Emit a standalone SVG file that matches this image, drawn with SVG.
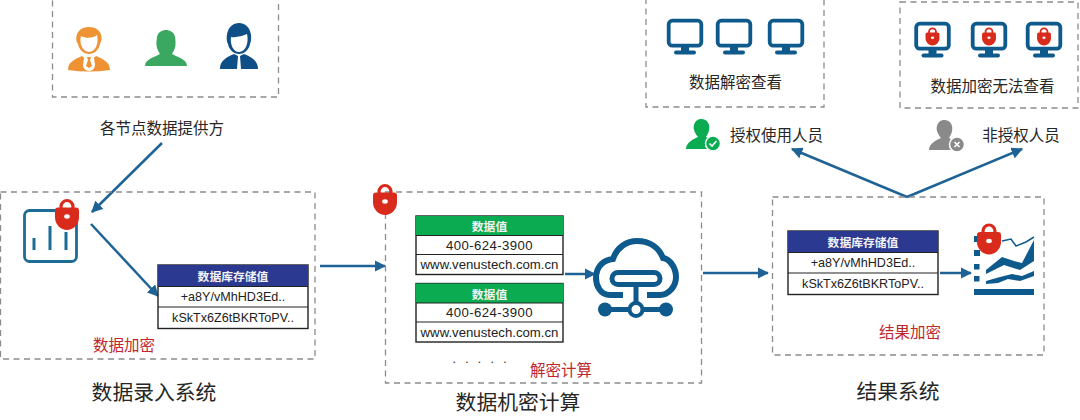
<svg xmlns="http://www.w3.org/2000/svg" width="1080" height="420" viewBox="0 0 1080 420">
<style>
text{font-family:"Noto Sans CJK SC","Liberation Sans",sans-serif;fill:#262626;text-anchor:middle;dominant-baseline:central}
.box{fill:none;stroke:#8c8c8c;stroke-width:1.3;stroke-dasharray:6 4.5}
.c{fill:none;stroke:#1f6396;stroke-width:2.5}
.lbl{font-size:15.5px}
.ttl{font-size:20.8px}
.red{font-size:15.5px;fill:#c0272d}
.hd{font-size:11.8px;font-weight:700;fill:#f2f2f2}
.cell{font-family:"Liberation Sans",sans-serif;font-size:12.6px;fill:#222}
.ph{font-family:"Liberation Sans",sans-serif;font-size:13.2px;fill:#222}
.tb{fill:#fff;stroke:#222;stroke-width:1.4}
.navy{fill:#2b3990}
.grn{fill:#0bab52}
.ln{fill:none;stroke:#0f5a8c}
.mon{fill:#0f5a8c}
</style>
<defs>
<marker id="ah" viewBox="0 0 10 10" refX="9" refY="5" markerWidth="4.6" markerHeight="4.6" orient="auto"><path d="M0 0L10 5L0 10Z" fill="#1f6396"/></marker>
<g id="lock"><circle cx="0" cy="-8" r="6" fill="none" stroke="#d92b1c" stroke-width="3.2"/><path d="M-12-4Q-12-7-9-7H9Q12-7 12-4V3C12 10 6 15.500 0 15.500S-12 10-12 3Z" fill="#d92b1c"/><ellipse cx="0" cy="2" rx="2.800" ry="2.200" fill="#fff"/></g>
<g id="monitor"><rect x="1.700" y="1.700" width="32.600" height="25" rx="3.500" fill="#fff" stroke="#0f5a8c" stroke-width="3.800"/><rect x="14" y="27" width="8" height="5" class="mon"/><rect x="7" y="31.500" width="22" height="4" rx="2" class="mon"/></g>
<g id="tbl-enc"><rect class="tb" x="0" y="0" width="150" height="63.500"/><rect class="navy" x="0" y="0" width="150" height="21.500"/><path d="M0 21.500H150M0 42H150" stroke="#222" stroke-width="1.200"/><text class="hd" x="75" y="10.500">数据库存储值</text><text class="cell" x="75" y="31.500">+a8Y/vMhHD3Ed..</text><text class="cell" x="75" y="52.500">kSkTx6Z6tBKRToPV..</text></g>
<g id="tbl-val"><rect class="tb" x="0" y="0" width="147" height="58.500"/><rect class="grn" x="0" y="0" width="147" height="19.500"/><path d="M0 19.500H147M0 38.500H147" stroke="#222" stroke-width="1.200"/><text class="hd" x="73.500" y="9.500">数据值</text><text class="ph" x="73.500" y="29" style="letter-spacing:.4px">400-624-3900</text><text class="ph" x="73.500" y="48.500">www.venustech.com.cn</text></g>
</defs>
<rect width="1080" height="420" fill="#fff"/>

<g id="connectors">
<path class="c" marker-end="url(#ah)" d="M162 143L92 212"/>
<path class="c" marker-end="url(#ah)" d="M91 224L158 296"/>
<path class="c" marker-end="url(#ah)" d="M320 266H385"/>
<path class="c" marker-end="url(#ah)" d="M565 274H595"/>
<path class="c" marker-end="url(#ah)" d="M703 273H768"/>
<path class="c" marker-end="url(#ah)" d="M940 273H971"/>
<path class="c" marker-end="url(#ah)" d="M907 197L792 149"/>
<path class="c" marker-end="url(#ah)" d="M907 197L1022 149"/>
</g>

<g id="providers">
<rect class="box" x="52.500" y="-1" width="226" height="98"/>
<g id="person-orange" fill="#ee9234">
<path d="M78 44C74 38 77 27 89 27C101 27 104 38 100 44C99 50 94 54 89 54C84 54 79 50 78 44Z"/>
<path d="M81 36C86 39 94 38 97 35C99 42 96 52 89 52C82 52 79 42 81 36Z" fill="#fff"/>
<path d="M68 70C68 62 75 59 82 56L89 62L96 56C103 59 110 62 110 70Q89 73 68 70Z"/>
<path d="M84 58H94L95 65A6 6 0 0 1 83 65Z" fill="#fff"/>
<path d="M87 57H91L90 60L92 66L89 68L86 66L88 60Z"/>
</g>
<path id="person-green" fill="#3aa860" d="M145 66C145 59 155 57 160 54C156 48 156 44 157 37C158 32 162 30 166 30C170 30 174 32 175 37C176 44 176 48 172 54C177 57 187 59 187 66Z"/>
<g id="person-navy" fill="#0f4f88">
<path d="M228 44C225 38 227 23 239 23C251 23 253 38 250 44C249 50 244 54 239 54C234 54 229 50 228 44Z"/>
<path d="M231 37Q239 38 247 34C249 42 246 52 239 52C233 52 230 44 231 37Z" fill="#fff"/>
<path d="M220 69C220 62 224 58 234 54L238 56L237 69H241L240 56L244 54C254 58 258 62 258 69Z"/>
</g>
</g>
<text id="provider-label" class="lbl" x="162" y="127">各节点数据提供方</text>

<g id="entry-system">
<rect class="box" x="0.500" y="192" width="314.500" height="167"/>
<rect x="24.500" y="210.500" width="52" height="51" rx="5" fill="#fff" stroke="#1d6c96" stroke-width="2.800"/>
<path d="M34 238V250M50 226V250M66 232V250" stroke="#1d6c96" stroke-width="3" fill="none"/>
<use href="#lock" x="67" y="214.500"/>
<use href="#tbl-enc" x="158" y="265"/>
<text class="red" x="124" y="343.500">数据加密</text>
<text class="ttl" x="154" y="391">数据录入系统</text>
</g>

<g id="compute-system">
<rect class="box" x="385.500" y="192" width="316" height="191"/>
<use href="#lock" x="385" y="199.500"/>
<use href="#tbl-val" x="416" y="216"/>
<use href="#tbl-val" x="416" y="283.500"/>
<g id="cloud">
<path class="ln" stroke-width="6" d="M623 295H610C600 295 596 285 596 278C596 266 604 260 613 259C617 247 627 241 637 241C650 241 659 248 663 258C670 259 676 268 676 277C676 287 668 295 660 295H647"/>
<rect class="ln" stroke-width="5" x="612" y="272.500" width="48" height="12" rx="6"/>
<path class="ln" stroke-width="5" d="M636 285V304M606 309.500H667"/>
<circle cx="605" cy="309.500" r="7" fill="#0f5a8c"/><circle cx="666" cy="309.500" r="7" fill="#0f5a8c"/>
<circle cx="636" cy="309.500" r="6.500" fill="#fff" stroke="#0f5a8c" stroke-width="4"/>
</g>
<text x="481" y="359" style="font-family:'Liberation Sans',sans-serif;font-size:12px;letter-spacing:3px">. . . . .</text>
<text class="red" x="561" y="369">解密计算</text>
<text class="ttl" x="518" y="401">数据机密计算</text>
</g>

<g id="result-system">
<rect class="box" x="772.500" y="197" width="271.500" height="158"/>
<use href="#tbl-enc" x="788" y="231"/>
<g id="result-chart" fill="#0f5a8c">
<rect x="974" y="236" width="6" height="6"/><rect x="974" y="250" width="6" height="6"/><rect x="974" y="264" width="5.500" height="5.500"/><rect x="974" y="276" width="5.500" height="5.500"/>
<rect x="974" y="289" width="60" height="6"/>
<path d="M986 270L1002 257L1014 261L1022 263L1034 240V261L1020 270L1004 265L986 274Z"/>
<path d="M986 281L1000 277L1012 274L1022 276L1034 271V276L1020 281L1008 279L998 283L986 284Z"/>
<path d="M1002 241L1011 239L1016 246L1026 242L1034 237" fill="none" stroke="#0f5a8c" stroke-width="1.500"/>
</g>
<use href="#lock" x="989" y="239"/>
<text class="red" x="910" y="331">结果加密</text>
<text class="ttl" x="898" y="390">结果系统</text>
</g>

<g id="authorized-view">
<rect class="box" x="646" y="-1" width="178" height="108"/>
<use href="#monitor" x="667" y="19"/><use href="#monitor" x="716" y="19"/><use href="#monitor" x="768" y="19"/>
<text class="lbl" x="735.500" y="81">数据解密查看</text>
</g>

<g id="encrypted-view">
<rect class="box" x="900" y="2" width="178" height="106"/>
<use href="#monitor" x="914.500" y="22"/><use href="#monitor" x="971" y="22"/><use href="#monitor" x="1026" y="22"/>
<use href="#lock" transform="translate(932.500 36.500) scale(0.580)"/>
<use href="#lock" transform="translate(989 36.500) scale(0.580)"/>
<use href="#lock" transform="translate(1044 36.500) scale(0.580)"/>
<text class="lbl" x="992.500" y="85">数据加密无法查看</text>
</g>

<g id="authorized-person">
<path fill="#0bab52" d="M686 149C686 142 694 139 698 137C694 132 693 128 694 125C695 121 698 119 701 119C705 119 708 121 709 125C710 130 708 134 706 137C709 139 712 140 714 142V149Z"/>
<circle cx="713" cy="143.500" r="7.500" fill="#0bab52" stroke="#fff" stroke-width="1.500"/>
<path d="M709.500 143.500L712 146L716.500 141" fill="none" stroke="#fff" stroke-width="1.600"/>
<text class="lbl" x="776.500" y="134">授权使用人员</text>
</g>

<g id="unauthorized-person">
<path fill="#8a8a8a" d="M929 150C929 143 937 140 941 138C937 133 936 129 937 126C938 122 941 120 944 120C948 120 951 122 952 126C953 131 951 135 949 138C952 140 955 141 957 143V150Z"/>
<circle cx="957" cy="144.500" r="7.500" fill="#8a8a8a" stroke="#fff" stroke-width="1.500"/>
<path d="M954.500 142L959.500 147M959.500 142L954.500 147" fill="none" stroke="#fff" stroke-width="1.600"/>
<text class="lbl" x="1021" y="134">非授权人员</text>
</g>
</svg>
